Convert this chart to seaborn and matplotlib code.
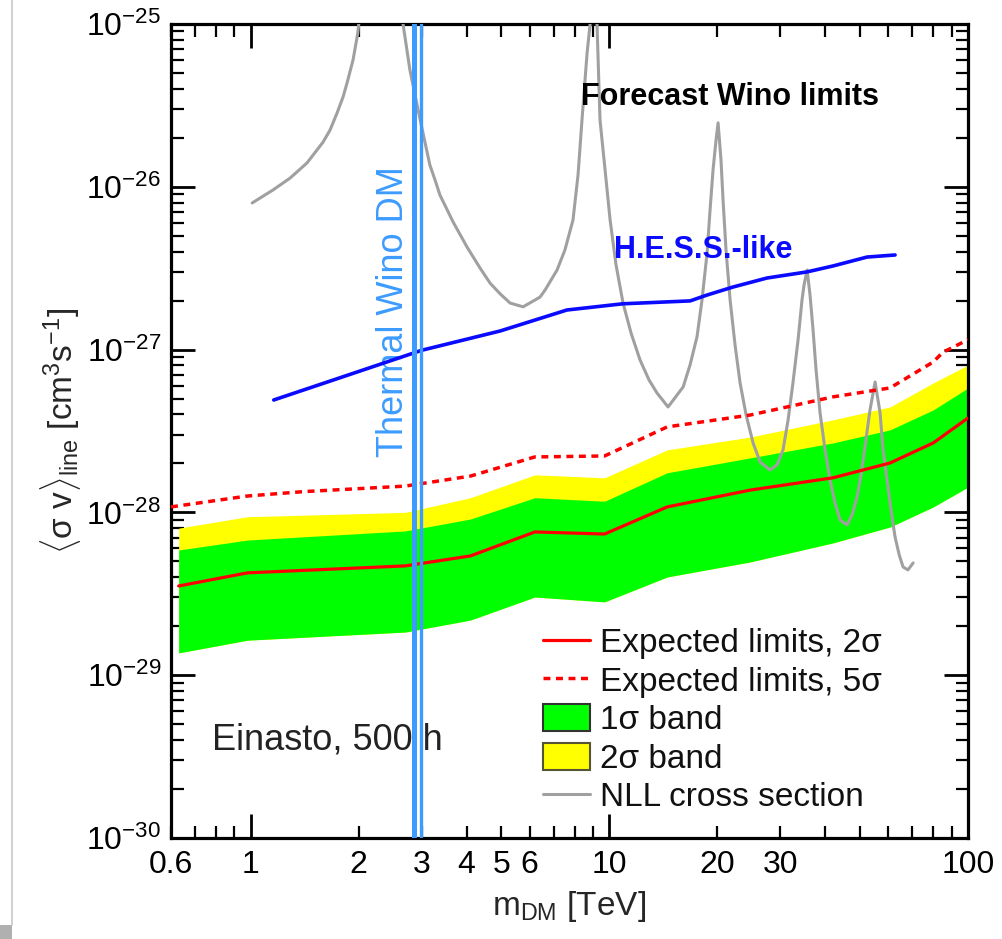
import numpy as np
import pandas as pd
import matplotlib
matplotlib.use("Agg")
import matplotlib.pyplot as plt
import seaborn as sns
from matplotlib.patches import Patch, Rectangle
from matplotlib.lines import Line2D
from matplotlib.ticker import FixedLocator, FuncFormatter, LogFormatterMathtext, NullFormatter

# ---------------- data ----------------
band_mass = [0.63, 0.98, 2.7, 4.1, 6.2, 9.7, 14.5, 24.7, 42.0, 60.6, 80.0, 100.0]
band2_upper = [8.0e-29, 9.4e-29, 1.0e-28, 1.23e-28, 1.70e-28, 1.63e-28, 2.42e-28,
               2.90e-28, 3.70e-28, 4.44e-28, 6.24e-28, 8.04e-28]
band1_upper = [5.87e-29, 6.76e-29, 7.69e-29, 9.1e-29, 1.23e-28, 1.17e-28, 1.75e-28,
               2.16e-28, 2.67e-28, 3.21e-28, 4.26e-28, 5.81e-28]
band1_lower = [1.37e-29, 1.64e-29, 1.84e-29, 2.18e-29, 3.02e-29, 2.82e-29, 4.01e-29,
               4.96e-29, 6.49e-29, 8.13e-29, 1.08e-28, 1.43e-28]
expected_2sigma = [3.53e-29, 4.25e-29, 4.69e-29, 5.40e-29, 7.58e-29, 7.36e-29, 1.08e-28,
                   1.37e-28, 1.63e-28, 2.01e-28, 2.67e-28, 3.80e-28]

mass_5sigma = [0.6, 0.98, 1.4, 2.7, 4.1, 6.2, 9.7, 14.5, 24.7, 42.0, 60.6, 80.0, 85.0, 100.0]
expected_5sigma = [1.08e-28, 1.26e-28, 1.34e-28, 1.45e-28, 1.67e-28, 2.19e-28, 2.22e-28,
                   3.35e-28, 3.96e-28, 5.12e-28, 5.81e-28, 8.39e-28, 9.6e-28, 1.15e-27]

hess_mass = [1.16, 1.70, 3.0, 4.96, 7.62, 10.9, 16.8, 18.7, 22.1, 27.5, 35.6, 42.0, 52.3, 62.6]
hess_limit = [4.9e-28, 6.5e-28, 9.9e-28, 1.30e-27, 1.75e-27, 1.91e-27, 1.99e-27, 2.16e-27,
              2.42e-27, 2.75e-27, 3.0e-27, 3.26e-27, 3.70e-27, 3.81e-27]

nll_mass = [1.01, 1.155, 1.288, 1.436, 1.592, 1.665, 1.742, 1.81, 1.857, 1.93, 1.99, 2.02,
            2.3, 2.62, 2.66, 2.78, 2.873, 2.97, 3.065, 3.16, 3.267, 3.37, 3.668, 4.01,
            4.36, 4.65, 4.96, 5.29, 5.75, 6.41, 6.62, 7.15, 7.52, 7.92, 8.18, 8.39, 8.67,
            8.84, 9.0, 9.24, 9.42, 9.73, 10.05, 10.44, 10.92, 11.5, 12.18, 12.9, 13.58,
            14.58, 16.06, 16.79, 17.56, 18.13, 18.73, 19.09, 19.46, 19.84, 20.1, 20.48,
            20.75, 21.15, 21.71, 22.41, 23.15, 24.06, 25.16, 26.32, 28.06, 29.35, 30.5,
            31.5, 32.5, 33.59, 34.45, 34.9, 35.6, 36.27, 36.98, 37.7, 38.68, 39.94, 41.24,
            42.6, 43.98, 46.0, 47.5, 49.05, 50.3, 51.6, 53.3, 55.07, 56.86, 57.96, 59.47,
            61.0, 62.6, 64.3, 65.9, 68.0, 70.3]
nll_xsec = [7.95e-27, 9.56e-27, 1.13e-26, 1.40e-26, 1.88e-26, 2.23e-26, 2.84e-26, 3.56e-26,
            4.34e-26, 6.01e-26, 8.80e-26, 1.2e-25,
            1e-24, 1.2e-25, 1.0e-25, 5.22e-26, 3.66e-26, 2.57e-26, 1.86e-26, 1.36e-26,
            1.10e-26, 8.91e-27, 6.08e-27, 4.27e-27,
            3.17e-27, 2.56e-27, 2.20e-27, 1.93e-27, 1.83e-27, 2.10e-27, 2.32e-27, 3.08e-27,
            4.09e-27, 6.25e-27, 1.18e-26, 2.57e-26, 6.64e-26,
            1.0e-25, 3e-25, 1.0e-25, 2.57e-26, 1.27e-26, 6.25e-27, 3.31e-27, 1.93e-27,
            1.26e-27, 8.63e-28, 6.51e-28, 5.41e-28,
            4.44e-28, 5.89e-28, 8.04e-28, 1.20e-27, 2.02e-27, 3.92e-27, 7.20e-27, 1.27e-26,
            1.94e-26, 2.47e-26, 1.46e-26,
            8.30e-27, 4.09e-27, 2.02e-27, 1.07e-27, 6.23e-28, 3.97e-28, 2.67e-28, 2.04e-28,
            1.82e-28, 1.96e-28, 2.42e-28,
            3.69e-28, 6.23e-28, 1.15e-27, 2.02e-27, 2.49e-27, 3.08e-27, 2.16e-27, 1.32e-27,
            7.49e-28, 4.08e-28, 2.42e-28, 1.58e-28,
            1.14e-28, 8.98e-29, 8.37e-29, 9.64e-29, 1.24e-28, 1.70e-28, 2.52e-28, 4.26e-28,
            6.32e-28, 4.08e-28, 2.42e-28, 1.58e-28,
            1.03e-28, 7.06e-29, 5.47e-29, 4.62e-29, 4.43e-29, 4.89e-29]

thermal_wino_mass = [2.86, 2.98]

x_major = [1, 10, 100]
x_minor = [0.6, 0.7, 0.8, 0.9, 2, 3, 4, 5, 6, 7, 8, 9, 20, 30, 40, 50, 60, 70, 80, 90]
x_minor_labels = {0.6: "0.6", 2: "2", 3: "3", 4: "4", 5: "5", 6: "6", 20: "20", 30: "30"}

# ---------------- style ----------------
sns.set_theme(style="ticks")
plt.rcParams["font.family"] = ["Liberation Sans", "DejaVu Sans"]
plt.rcParams["mathtext.fontset"] = "custom"
plt.rcParams["mathtext.rm"] = "Liberation Sans"
plt.rcParams["mathtext.it"] = "Liberation Sans:italic"
plt.rcParams["mathtext.bf"] = "Liberation Sans:bold"

GREEN = "#00ff00"
YELLOW = "#ffff00"
RED = "#ff0000"
BLUE = "#0a0aff"
GRAY = "#a0a0a0"
LBLUE = "#3d9bff"

fig = plt.figure(figsize=(10.02, 9.39), dpi=100)
ax = fig.add_axes([0.1707, 0.1076, 0.7954, 0.8669])
ax.set_xscale("log")
ax.set_yscale("log")

# bands
ax.fill_between(band_mass, band1_lower, band2_upper, color=YELLOW, lw=0, zorder=1)
ax.fill_between(band_mass, band1_lower, band1_upper, color=GREEN, lw=0, zorder=2)

df_exp2 = pd.DataFrame({"mass": band_mass, "limit": expected_2sigma})
df_exp5 = pd.DataFrame({"mass": mass_5sigma, "limit": expected_5sigma})
df_hess = pd.DataFrame({"mass": hess_mass, "limit": hess_limit})
df_nll = pd.DataFrame({"mass": nll_mass, "xsec": nll_xsec})

sns.lineplot(data=df_exp2, x="mass", y="limit", ax=ax, color=RED, lw=2.3,
             estimator=None, sort=False, zorder=4)
sns.lineplot(data=df_exp5, x="mass", y="limit", ax=ax, color=RED, lw=2.5,
             linestyle=(0, (2.0, 1.6)), estimator=None, sort=False, zorder=4)
sns.lineplot(data=df_hess, x="mass", y="limit", ax=ax, color=BLUE, lw=2.6,
             estimator=None, sort=False, zorder=4)
sns.lineplot(data=df_nll, x="mass", y="xsec", ax=ax, color=GRAY, lw=2.2,
             estimator=None, sort=False, zorder=3)

ax.axvline(thermal_wino_mass[0], color=LBLUE, lw=3.6, zorder=5)
ax.axvline(thermal_wino_mass[1], color=LBLUE, lw=2.4, zorder=5)

ax.set_xlim(0.6, 100)
ax.set_ylim(1e-30, 1e-25)

# ticks
ax.xaxis.set_major_locator(FixedLocator(x_major))
ax.xaxis.set_major_formatter(FuncFormatter(lambda v, p: f"{v:g}"))
ax.xaxis.set_minor_locator(FixedLocator(x_minor))
ax.xaxis.set_minor_formatter(FuncFormatter(
    lambda v, p: next((t for k, t in x_minor_labels.items() if abs(k - v) < 1e-6), "")))
ax.yaxis.set_major_locator(FixedLocator([1e-30, 1e-29, 1e-28, 1e-27, 1e-26, 1e-25]))
ax.yaxis.set_major_formatter(LogFormatterMathtext())
ax.yaxis.set_minor_locator(FixedLocator(
    [m * 10.0 ** e for e in range(-30, -25) for m in range(2, 10)]))
ax.yaxis.set_minor_formatter(NullFormatter())

ax.tick_params(which="both", direction="in", top=True, right=True, colors="black",
               labelsize=23)
ax.tick_params(axis="x", which="both", pad=9)
ax.tick_params(axis="y", which="both", pad=7)
ax.tick_params(which="major", length=17, width=2.0)
ax.tick_params(which="minor", length=9, width=1.6)
for s in ax.spines.values():
    s.set_linewidth(2.3)
    s.set_color("black")

ax.set_xlabel(r"m$_{\rm DM}$ [TeV]", fontsize=24, labelpad=6)
ax.set_ylabel(r"$\langle\mathrm{\sigma\ v}\rangle_{\rm line}$ [cm$^{3}$s$^{-1}$]",
              fontsize=24, labelpad=2)

# annotations
ax.text(0.701, 0.910, "Forecast Wino limits", transform=ax.transAxes, ha="center",
        va="center", fontsize=22, fontweight="bold", color="black")
ax.text(0.6675, 0.7224, "H.E.S.S.-like", transform=ax.transAxes, ha="center",
        va="center", fontsize=22, fontweight="bold", color=BLUE)
ax.text(0.0514, 0.1204, "Einasto, 500 h", transform=ax.transAxes, ha="left",
        va="center", fontsize=26, color="#222222")
ax.text(0.2790, 0.6462, "Thermal Wino DM", transform=ax.transAxes, ha="center",
        va="center", rotation=90, fontsize=26, color=LBLUE)

# legend
handles = [
    Line2D([], [], color=RED, lw=2.3),
    Line2D([], [], color=RED, lw=2.5, linestyle=(0, (2.0, 1.6))),
    Patch(facecolor=GREEN, edgecolor="#333333", lw=1.5),
    Patch(facecolor=YELLOW, edgecolor="#555533", lw=1.5),
    Line2D([], [], color=GRAY, lw=2.2),
]
labels = ["Expected limits, 2σ", "Expected limits, 5σ", "1σ band", "2σ band",
          "NLL cross section"]
leg = ax.legend(handles, labels, loc="upper left", bbox_to_anchor=(0.45, 0.275),
                frameon=False, fontsize=24, handlelength=1.4, handleheight=0.85,
                handletextpad=0.3, labelspacing=0.2, borderaxespad=0)
for t in leg.get_texts():
    t.set_color("#111111")

# thin frame artefacts at left of the reference image
fig.add_artist(Line2D([12 / 1002, 12 / 1002], [14 / 939, 1.0], transform=fig.transFigure,
                      color="#c8c8c8", lw=1.2))
fig.add_artist(Rectangle((0, 0), 12 / 1002, 14 / 939, transform=fig.transFigure,
                         facecolor="#b0b0b0", edgecolor="none"))

fig.savefig("out.png", dpi=100)
